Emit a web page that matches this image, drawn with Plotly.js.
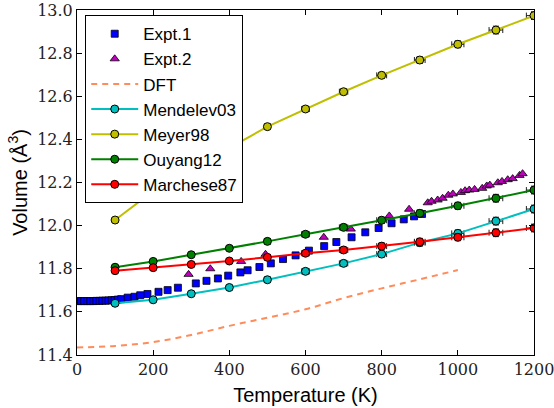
<!DOCTYPE html>
<html>
<head>
<meta charset="utf-8">
<script src="https://cdn.plot.ly/plotly-3.0.1.min.js"></script>
<style>html,body{margin:0;padding:0;background:#fff;}#chart{width:554px;height:408px;}</style>
</head>
<body>
<div id="chart"></div>
<script>
// Expt.1 (blue squares)
var expt1T = [3, 11, 19, 27, 35, 43, 51, 59, 67, 75, 83, 91, 99, 107, 116, 133, 151, 166, 185, 214, 238, 265, 312, 340, 370, 397, 429, 448, 479, 509, 541, 574, 609, 649, 681, 721, 757, 792, 826, 858, 885, 906];
var expt1V = [11.650, 11.650, 11.650, 11.650, 11.650, 11.650, 11.651, 11.651, 11.652, 11.652, 11.653, 11.654, 11.655, 11.657, 11.659, 11.666, 11.670, 11.677, 11.683, 11.693, 11.701, 11.712, 11.732, 11.744, 11.755, 11.768, 11.783, 11.793, 11.808, 11.825, 11.845, 11.862, 11.884, 11.905, 11.924, 11.946, 11.969, 11.989, 12.011, 12.029, 12.043, 12.054];
// Expt.2 (magenta triangles)
var expt2T = [293, 350, 431, 495, 648, 719, 820, 872, 921, 931, 947, 960, 975, 987, 1008, 1019, 1030, 1044, 1064, 1076, 1084, 1105, 1116, 1131, 1144, 1162, 1170];
var expt2V = [11.774, 11.800, 11.834, 11.867, 11.946, 11.984, 12.045, 12.076, 12.106, 12.113, 12.119, 12.127, 12.141, 12.147, 12.154, 12.162, 12.165, 12.168, 12.173, 12.184, 12.188, 12.199, 12.205, 12.213, 12.218, 12.233, 12.241];
// DFT
var dftT = [0, 100, 200, 300, 400, 500, 600, 700, 800, 900, 1000];
var dftV = [11.435, 11.442, 11.460, 11.493, 11.535, 11.573, 11.612, 11.664, 11.709, 11.751, 11.794];
// Potentials
var potT = [100, 200, 300, 400, 500, 600, 700, 800, 900, 1000, 1100, 1200];
var mendelevV = [11.640, 11.656, 11.684, 11.713, 11.749, 11.788, 11.825, 11.868, 11.921, 11.964, 12.021, 12.077];
var meyerV = [12.026, 12.160, 12.265, 12.360, 12.459, 12.541, 12.621, 12.697, 12.768, 12.841, 12.907, 12.974];
var ouyangV = [11.807, 11.834, 11.865, 11.895, 11.927, 11.960, 11.992, 12.025, 12.057, 12.092, 12.127, 12.165];
var marcheseV = [11.791, 11.805, 11.820, 11.836, 11.853, 11.872, 11.887, 11.905, 11.925, 11.946, 11.967, 11.989];
var errT = [0, 0, 0, 0, 8, 10, 11, 13, 14, 16, 18, 20];
var errV = [0, 0, 0, 0, 0.012, 0.012, 0.014, 0.014, 0.016, 0.016, 0.018, 0.018];

var xTicks = [0, 200, 400, 600, 800, 1000, 1200];
var yTicks = [11.4, 11.6, 11.8, 12.0, 12.2, 12.4, 12.6, 12.8, 13.0];

function pot(name, v, col) {
  return {
    x: potT, y: v, name: name, type: 'scatter', mode: 'lines+markers',
    line: {color: col, width: 2},
    marker: {symbol: 'circle', size: 8, color: col, line: {color: '#000', width: 1}},
    error_x: {type: 'data', array: errT, visible: true, color: '#222', thickness: 1, width: 3},
    error_y: {type: 'data', array: errV, visible: true, color: '#222', thickness: 1, width: 3}
  };
}

var traces = [
  {x: expt1T, y: expt1V, name: 'Expt.1', type: 'scatter', mode: 'markers',
   marker: {symbol: 'square', size: 7, color: '#0000ff', line: {color: '#000', width: 0.8}}},
  {x: expt2T, y: expt2V, name: 'Expt.2', type: 'scatter', mode: 'markers',
   marker: {symbol: 'triangle-up', size: 8, color: '#bf00bf', line: {color: '#000', width: 0.8}}},
  {x: dftT, y: dftV, name: 'DFT', type: 'scatter', mode: 'lines',
   line: {color: '#ff8c5a', width: 2, dash: '6px,5px', shape: 'spline'}},
  pot('Mendelev03', mendelevV, '#00bfbf'),
  pot('Meyer98', meyerV, '#bfbf00'),
  pot('Ouyang12', ouyangV, '#008000'),
  pot('Marchese87', marcheseV, '#ff0000')
];

function axis(extra) {
  var a = {
    showgrid: false, zeroline: false, showline: true, linecolor: '#000', linewidth: 1,
    mirror: 'allticks', ticks: 'inside', ticklen: 5, tickcolor: '#000', tickwidth: 1,
    ticklabeloverflow: 'allow',
    tickfont: {family: 'DejaVu Serif', size: 16, color: '#222'}
  };
  for (var k in extra) a[k] = extra[k];
  return a;
}

var layout = {
  width: 554, height: 408,
  margin: {l: 77, r: 20, t: 10, b: 53},
  paper_bgcolor: '#fff', plot_bgcolor: '#fff',
  font: {family: 'Liberation Sans', color: '#000'},
  showlegend: true,
  xaxis: axis({
    range: [0, 1200], tickvals: xTicks, ticktext: xTicks.map(String),
    title: {text: 'Temperature (K)', font: {family: 'Liberation Sans', size: 20, color: '#000'}, standoff: 9}
  }),
  yaxis: axis({
    range: [11.4, 13.0], tickvals: yTicks, ticktext: yTicks.map(function(v){return v.toFixed(1);}),
    title: {text: 'Volume (Å<sup>3</sup>)', font: {family: 'Liberation Sans', size: 20, color: '#000'}, standoff: 4}
  }),
  legend: {
    x: 0.018, y: 0.985, xanchor: 'left', yanchor: 'top',
    bgcolor: '#fff', bordercolor: '#000', borderwidth: 1,
    font: {family: 'Liberation Sans', size: 17, color: '#000'},
    itemwidth: 47, tracegroupgap: 0
  }
};

Plotly.newPlot('chart', traces, layout, {displayModeBar: false, staticPlot: true});
</script>
</body>
</html>
